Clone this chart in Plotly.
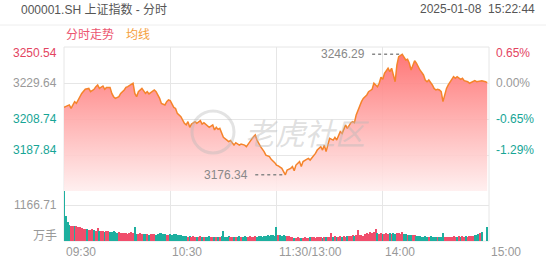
import plotly.graph_objects as go

# ---------------- data ----------------
title_text = "000001.SH 上证指数 - 分时"
timestamp = "2025-01-08  15:22:44"
legend_items = ["分时走势", "均线"]
prev_close = 3229.64
price_ticks = [3250.54, 3229.64, 3208.74, 3187.84]
pct_labels = ["0.65%", "0.00%", "-0.65%", "-1.29%"]
price_range = [3166.94, 3250.54]
vol_tick = 1166.71
vol_tick_label = "1166.71"
vol_unit = "万手"
time_ticks = [0, 60, 120, 180, 240]
time_labels = ["09:30", "10:30", "11:30/13:00", "14:00", "15:00"]
high_label = "3246.29"
low_label = "3176.34"

minutes = [0, 3, 4, 6, 7, 9, 10, 12, 14, 15, 17, 18, 19, 20, 21, 22, 23, 24, 26, 27,
           28, 29, 31, 32, 34, 35, 36, 38, 39, 40, 41, 42, 43, 44, 46, 47, 48, 50, 51, 52,
           54, 55, 57, 58, 59, 60, 61, 62, 63, 64, 66, 67, 68, 69, 70, 71, 72, 74, 75, 77,
           78, 79, 81, 82, 84, 85, 86, 87, 88, 89, 90, 92, 93, 94, 96, 97, 99, 100, 102, 103,
           104, 105, 107, 108, 109, 110, 111, 113, 114, 116, 117, 119, 120, 121, 123, 124, 125, 126, 128, 129,
           130, 131, 133, 134, 135, 137, 138, 139, 141, 142, 143, 145, 146, 147, 148, 149, 150, 152, 153, 154,
           155, 156, 157, 158, 159, 160, 162, 163, 164, 165, 167, 168, 169, 171, 172, 174, 175, 177, 178, 179,
           180, 181, 183, 184, 185, 186, 187, 188, 189, 191, 192, 193, 194, 195, 196, 198, 199, 200, 201, 203,
           204, 205, 206, 208, 209, 210, 211, 212, 213, 214, 215, 216, 217, 218, 220, 221, 222, 224, 225, 226,
           228, 229, 231, 232, 233, 235, 236, 238, 239]
prices = [3215.5, 3216.9, 3214.9, 3218.8, 3217.8, 3221.7, 3223.6, 3226.0, 3226.5, 3224.6,
          3226.0, 3227.5, 3228.5, 3226.5, 3227.5, 3227.9, 3226.0, 3227.1, 3227.1, 3223.6,
          3221.7, 3220.7, 3221.7, 3223.6, 3225.6, 3227.1, 3227.5, 3228.9, 3229.5, 3223.6,
          3221.7, 3224.6, 3225.6, 3226.5, 3223.6, 3224.6, 3223.3, 3224.6, 3225.6, 3224.6,
          3220.7, 3217.8, 3216.9, 3218.8, 3219.8, 3219.4, 3216.9, 3215.5, 3214.9, 3212.0,
          3210.1, 3207.8, 3206.2, 3205.3, 3207.2, 3203.9, 3205.8, 3207.2, 3206.2, 3207.8,
          3205.8, 3206.6, 3204.7, 3203.9, 3205.3, 3202.4, 3203.9, 3202.7, 3203.3, 3200.4,
          3198.1, 3196.5, 3195.6, 3196.2, 3193.6, 3195.0, 3193.6, 3194.2, 3193.6, 3192.7,
          3194.6, 3195.6, 3198.5, 3199.5, 3196.5, 3194.2, 3192.7, 3189.8, 3187.8, 3186.9,
          3185.3, 3183.4, 3182.0, 3181.5, 3180.1, 3178.2, 3176.34, 3179.1, 3180.1, 3181.1,
          3178.7, 3182.0, 3184.0, 3181.1, 3184.0, 3185.3, 3185.9, 3184.9, 3187.3, 3188.8,
          3190.7, 3192.7, 3190.7, 3193.6, 3189.8, 3193.6, 3197.5, 3196.5, 3198.1, 3196.5,
          3199.5, 3201.4, 3200.4, 3203.3, 3205.3, 3203.3, 3206.6, 3207.2, 3206.6, 3211.1,
          3216.9, 3218.8, 3220.7, 3222.7, 3224.6, 3226.0, 3229.5, 3227.5, 3229.5, 3233.0,
          3231.8, 3235.3, 3238.2, 3236.2, 3238.2, 3234.3, 3230.4, 3240.1, 3244.9, 3246.29,
          3244.5, 3243.0, 3243.4, 3241.1, 3237.2, 3242.6, 3241.1, 3239.1, 3237.2, 3234.3,
          3231.4, 3230.4, 3231.4, 3228.5, 3226.5, 3225.6, 3226.0, 3225.6, 3224.6, 3218.8,
          3223.6, 3226.5, 3228.5, 3230.4, 3233.3, 3232.4, 3233.3, 3231.8, 3232.4, 3231.0,
          3230.4, 3229.5, 3230.4, 3231.0, 3230.4, 3231.0, 3231.0, 3230.4, 3229.9]

volumes = [1700, 800, 630, 520, 500, 490, 500, 480, 470, 460,
           420, 400, 380, 390, 370, 350, 380, 360, 340, 410,
           330, 320, 340, 300, 310, 330, 300, 290, 310, 280,
           270, 280, 260, 250, 270, 260, 240, 250, 300, 260,
           470, 240, 230, 250, 220, 240, 230, 220, 210, 230,
           220, 240, 210, 230, 270, 250, 220, 230, 210, 200,
           220, 210, 230, 240, 200, 210, 190, 170, 160, 150,
           140, 160, 130, 150, 120, 140, 130, 150, 120, 130,
           140, 130, 150, 120, 140, 130, 120, 140, 130, 150,
           330, 140, 130, 150, 120, 130, 140, 120, 130, 150,
           140, 130, 150, 140, 130, 150, 140, 130, 170, 140,
           150, 160, 140, 170, 150, 200, 160, 180, 190, 170,
           450, 200, 180, 170, 190, 160, 150, 170, 140, 130,
           110, 100, 120, 90, 110, 100, 120, 110, 100, 120,
           120, 130, 110, 140, 120, 130, 110, 140, 120, 130,
           140, 270, 130, 150, 120, 140, 160, 130, 150, 140,
           150, 170, 160, 180, 150, 190, 360, 200, 180, 170,
           220, 250, 230, 280, 260, 300, 380, 250, 220, 270,
           240, 230, 260, 220, 250, 240, 270, 230, 250, 260,
           240, 300, 220, 230, 210, 200, 190, 210, 180, 170,
           160, 150, 140, 130, 150, 140, 130, 150, 120, 140,
           130, 120, 140, 130, 250, 140, 120, 130, 140, 130,
           150, 140, 130, 150, 140, 160, 130, 150, 140, 150,
           160, 170, 180, 200, 230, 260, 280, 0, 0, 470]
# u = up minute (red), d = down minute (teal)
vol_dir = ("dddduuduuu" "uuuduuuduu" "duuduudddd" "duuuuuuuuu" "dduuuddudu"
           "uudddddduu" "dddddddddd" "uduuuduudu" "ddduududud" "dddduududd"
           "uddduuuuud" "dddddddddd" "dudddduuuu" "duuuduuuud" "uuuuuududu"
           "uududuuduu" "duuuduuuuu" "uuuuuuuduu" "duuududduu" "uuddudduud"
           "dddddduddd" "duddduuuuu" "uududuuduu" "uuddduduud")

# ---------------- styling ----------------
RED = "#f04e6c"
TEAL = "#1eaf9f"
LBL_RED = "#e3445f"
LBL_TEAL = "#16a596"
GRAY = "#999999"
GRID = "#e6e6e6"
LINE = "#f5842b"
FONT = "Liberation Sans, Arial, Noto Sans CJK SC"

W, H = 552, 265
L, R, T, B = 64, 489, 47, 241
PRICE_BOTTOM = 191
pw, ph = R - L, B - T
split = (B - PRICE_BOTTOM) / ph


def px(x):
    return (x - L) / pw


def py(y):
    return (B - y) / ph


vol_minutes = list(range(len(volumes)))
bar_colors = [RED if c == "u" else TEAL for c in vol_dir]

fig = go.Figure()
fig.add_trace(go.Scatter(x=minutes, y=[price_range[0]] * len(minutes), mode="lines",
                         line=dict(width=0, color="rgba(0,0,0,0)"), hoverinfo="skip",
                         showlegend=False))
fig.add_trace(go.Scatter(x=minutes, y=prices, mode="lines", fill="tonexty",
                         line=dict(color=LINE, width=1.5),
                         fillgradient=dict(type="vertical",
                                           colorscale=[[0, "rgba(255,238,238,0.9)"],
                                                       [1, "rgba(255,105,105,0.95)"]],
                                           start=price_range[0], stop=price_range[1]),
                         showlegend=False))
fig.add_trace(go.Bar(x=vol_minutes, y=volumes, marker=dict(color=bar_colors, line_width=0),
                     width=0.6, yaxis="y2", showlegend=False))

ann = []
# y labels (price)
lbl_colors = [LBL_RED, GRAY, LBL_TEAL, LBL_TEAL]
shifts = [-6, 0, 0, 5]
for v, pct, c, s in zip(price_ticks, pct_labels, lbl_colors, shifts):
    ann.append(dict(x=0, xref="paper", xshift=-5, xanchor="right", y=v, yref="y", yshift=s,
                    yanchor="middle", text=f"{v:.2f}", showarrow=False,
                    font=dict(size=12, color=c, family=FONT)))
    ann.append(dict(x=1, xref="paper", xshift=5, xanchor="left", y=v, yref="y", yshift=s,
                    yanchor="middle", text=pct, showarrow=False,
                    font=dict(size=12, color=c, family=FONT)))
ann.append(dict(x=0, xref="paper", xshift=-5, xanchor="right", y=vol_tick, yref="y2",
                yanchor="middle", text=vol_tick_label, showarrow=False,
                font=dict(size=12, color=GRAY, family=FONT)))
ann.append(dict(x=0, xref="paper", xshift=-5, xanchor="right", y=0, yref="y2", yshift=5,
                yanchor="middle", text=vol_unit, showarrow=False,
                font=dict(size=12, color=GRAY, family=FONT)))
# time labels
for t, lab in zip(time_ticks, time_labels):
    ann.append(dict(x=t, xref="x", xshift=0, xanchor="left", y=0, yref="paper", yshift=-11,
                    yanchor="middle", text=lab, showarrow=False,
                    font=dict(size=12, color=GRAY, family=FONT)))
# header
ann.append(dict(x=px(19), xref="paper", xanchor="left", y=py(9), yref="paper", yanchor="middle",
                text=title_text, showarrow=False, font=dict(size=12, color="#555555", family=FONT)))
ann.append(dict(x=px(537), xref="paper", xanchor="right", y=py(9), yref="paper", yanchor="middle",
                text=timestamp, showarrow=False, font=dict(size=12, color="#555555", family=FONT)))
ann.append(dict(x=px(64), xref="paper", xanchor="left", y=py(35), yref="paper", yanchor="middle",
                text=legend_items[0], showarrow=False, font=dict(size=12, color="#ec5570", family=FONT)))
ann.append(dict(x=px(124), xref="paper", xanchor="left", y=py(35), yref="paper", yanchor="middle",
                text=legend_items[1], showarrow=False, font=dict(size=12, color="#f5a03c", family=FONT)))
# watermark
ann.append(dict(x=px(307), xref="paper", xanchor="center", y=py(132), yref="paper", yanchor="middle",
                text="<i>老虎社区</i>", showarrow=False,
                font=dict(size=30, color="rgba(185,185,185,0.45)", family="Noto Sans CJK SC")))

# high / low markers
i_hi = prices.index(max(prices))
i_lo = prices.index(min(prices))
m_hi, p_hi = minutes[i_hi], prices[i_hi]
m_lo, p_lo = minutes[i_lo], prices[i_lo]
ann.append(dict(x=m_hi, xref="x", y=p_hi, yref="y", xshift=-35, xanchor="right", yanchor="middle",
                text=high_label, showarrow=False, font=dict(size=12, color="#888888", family=FONT)))
ann.append(dict(x=m_lo, xref="x", y=p_lo, yref="y", xshift=-35, xanchor="right", yanchor="middle",
                text=low_label, showarrow=False, font=dict(size=12, color="#888888", family=FONT)))

shapes = [
    dict(type="line", xref="x", yref="y", x0=m_hi - 17, x1=m_hi, y0=p_hi, y1=p_hi,
         line=dict(color="#888888", width=1.5, dash="3px,3px")),
    dict(type="line", xref="x", yref="y", x0=m_lo - 17, x1=m_lo, y0=p_lo, y1=p_lo,
         line=dict(color="#888888", width=1.5, dash="3px,3px")),
    dict(type="rect", xref="paper", yref="paper", x0=0, x1=1, y0=0, y1=1,
         line=dict(color=GRID, width=1), layer="below"),
    dict(type="line", xref="paper", yref="paper", x0=px(0), x1=px(546), y0=py(25), y1=py(25),
         line=dict(color="#eeeeee", width=1)),
    # watermark logo ring
    dict(type="circle", xref="paper", yref="paper", x0=px(192), x1=px(234), y0=py(153), y1=py(111),
         line=dict(color="rgba(185,185,185,0.4)", width=3)),
]

fig.update_layout(
    width=W, height=H,
    margin=dict(l=L, r=W - R, t=T, b=H - B),
    paper_bgcolor="white", plot_bgcolor="white",
    showlegend=False,
    bargap=0,
    xaxis=dict(range=[0, 240], tickvals=time_ticks[1:-1], showticklabels=False,
               showgrid=True, gridcolor=GRID, gridwidth=1, zeroline=False, ticks="",
               anchor="y2", fixedrange=True),
    yaxis=dict(domain=[split, 1], range=price_range, tickvals=price_ticks[1:],
               showticklabels=False, showgrid=True, gridcolor=GRID, zeroline=False,
               fixedrange=True),
    yaxis2=dict(domain=[0, split], range=[0, vol_tick * (B - PRICE_BOTTOM) / 36.0],
                tickvals=[vol_tick], showticklabels=False, showgrid=True, gridcolor=GRID,
                zeroline=False, fixedrange=True),
    annotations=ann,
    shapes=shapes,
)

fig.write_html("out.html")
